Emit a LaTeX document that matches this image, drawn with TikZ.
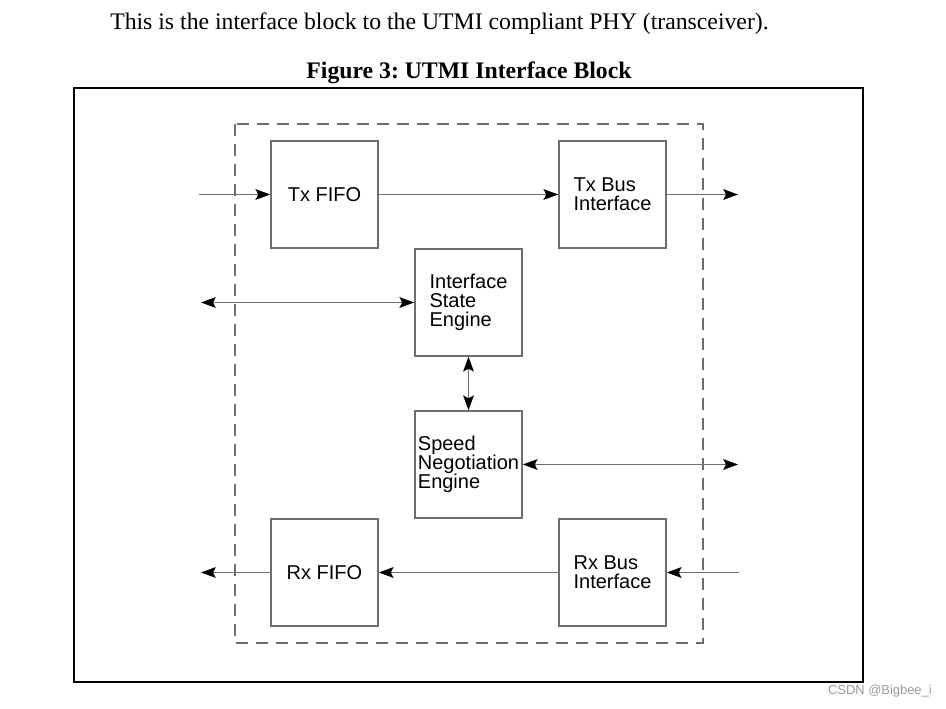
\documentclass[tikz,border=0pt]{standalone}
\usepackage{fontspec}
\setmainfont{Liberation Serif}
\newfontfamily\arialf{Liberation Sans}
\usetikzlibrary{arrows.meta}
\frenchspacing
\definecolor{linegray}{HTML}{6E6E6E}
\definecolor{wmgray}{HTML}{9A9A9A}
\begin{document}
\begin{tikzpicture}[x=0.75pt,y=-0.75pt,
  blk/.style={draw=linegray,line width=1.2pt,minimum width=80.25pt,minimum height=80.25pt,
    inner sep=0pt,align=left,text=black,font=\arialf\fontsize{15}{14.25}\selectfont},
  conn/.style={draw=linegray,line width=1.2pt},
  tipend/.style={-{Stealth[length=11pt,width=8pt,inset=2pt,black]}},
  tipboth/.style={{Stealth[length=11pt,width=8pt,inset=2pt,black]}-{Stealth[length=11pt,width=8pt,inset=2pt,black]}},
  frame/.style={draw=black,line width=1.8pt},
  dashframe/.style={draw=linegray,line width=1.2pt,dash pattern=on 9pt off 6pt}
]
\useasboundingbox (0,0) rectangle (946,709);
\node[anchor=west,inner sep=0pt,font=\fontsize{17.8}{20}\selectfont] (intro) at (110,24)
  {This is the interface block to the UTMI compliant PHY (transceiver).};
\node[inner sep=0pt,font=\bfseries\fontsize{17.8}{20}\selectfont] (title) at (469,73) {Figure 3: UTMI Interface Block};
\draw[frame] (74,88) rectangle (863,682);
\draw[dashframe] (235,124) rectangle (703,643);

\node[blk] (txfifo) at (324.5,194.5) {Tx FIFO};
\node[blk] (txbus) at (612.5,194.5) {Tx Bus\\Interface};
\node[blk] (ise) at (468.5,302.5) {Interface\\State\\Engine};
\node[blk] (sne) at (468.5,464.5) {Speed\\Negotiation\\Engine};
\node[blk] (rxfifo) at (324.5,572.5) {Rx FIFO};
\node[blk] (rxbus) at (612.5,572.5) {Rx Bus\\Interface};

\coordinate (txin) at (199,194.5);
\coordinate (txout) at (738,194.5);
\coordinate (isel) at (201,302.5);
\coordinate (sner) at (738,464.5);
\coordinate (rxin) at (739,572.5);
\coordinate (rxout) at (201,572.5);

\draw[conn,tipend] (txin) -- (txfifo.west);
\draw[conn,tipend] (txfifo.east) -- (txbus.west);
\draw[conn,tipend] (txbus.east) -- (txout);
\draw[conn,tipboth] (isel) -- (ise.west);
\draw[conn,tipboth] (ise.south) -- (sne.north);
\draw[conn,tipboth] (sne.east) -- (sner);
\draw[conn,tipend] (rxin) -- (rxbus.east);
\draw[conn,tipend] (rxbus.west) -- (rxfifo.east);
\draw[conn,tipend] (rxfifo.west) -- (rxout);

\node[anchor=east,inner sep=0pt,text=wmgray,font=\arialf\fontsize{9.7}{11}\selectfont] (wm) at (932,691) {CSDN @Bigbee\_i};
\end{tikzpicture}
\end{document}
